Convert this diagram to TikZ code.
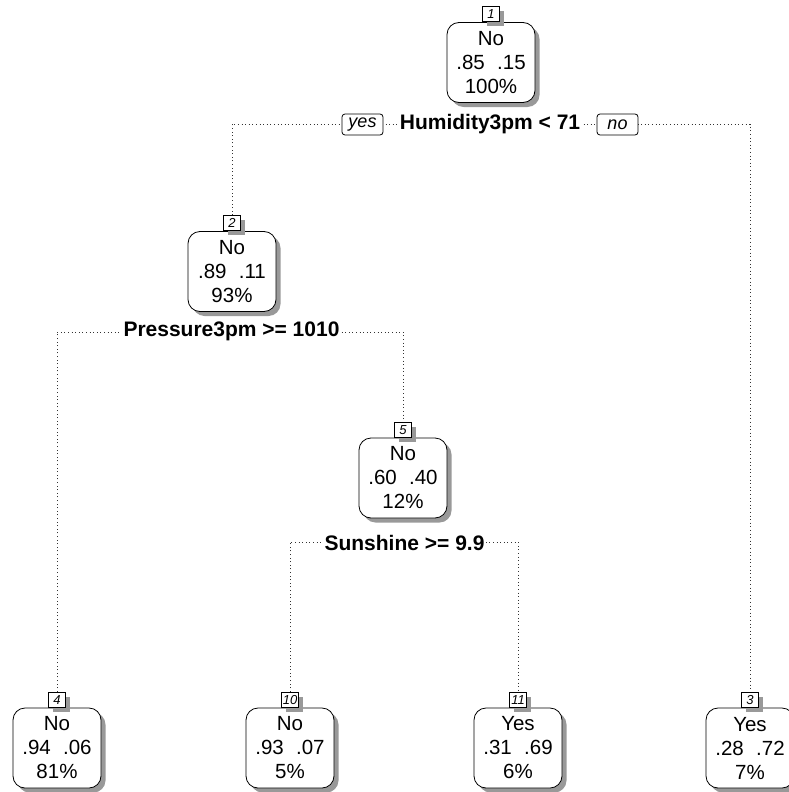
\documentclass[tikz,border=0pt]{standalone}
\usepackage{fontspec}
\setmainfont{Liberation Sans}
\usetikzlibrary{shadows}
\tikzset{
  shd/.style={drop shadow={shadow xshift=4.5pt,shadow yshift=-4.5pt,fill=black!40,opacity=1}},
  tnode/.style={draw,line width=0.8pt,rounded corners=12pt,minimum width=88pt,minimum height=80pt,
    fill=white,align=center,inner sep=0pt,font=\fontsize{20.5}{24}\selectfont,shd},
  numbox/.style={draw,line width=0.8pt,fill=white,minimum width=17pt,minimum height=15pt,inner sep=0pt,
    anchor=south,font=\fontsize{13}{13}\selectfont\itshape,shd},
  splitlab/.style={fill=white,inner sep=1.5pt,font=\fontsize{21}{21}\selectfont\bfseries},
  yn/.style={draw,line width=0.8pt,rounded corners=3pt,fill=white,minimum width=41pt,minimum height=21pt,
    inner sep=0pt,font=\fontsize{18}{18}\selectfont\itshape},
  conn/.style={line width=0.9pt,dash pattern=on 1pt off 2.6pt,black!80}
}
\begin{document}
\begin{tikzpicture}[x=1pt,y=-1pt]
\useasboundingbox (0,0) rectangle (789,792);
% nodes
\node[tnode] (n1) at (491,62.5) {No\\.85\hspace{0.6em}.15\\100\%};
\node[numbox] (k1) at (n1.north) {1};
\node[tnode] (n2) at (232,271.5) {No\\.89\hspace{0.6em}.11\\93\%};
\node[numbox] (k2) at (n2.north) {2};
\node[tnode] (n5) at (403,478) {No\\.60\hspace{0.6em}.40\\12\%};
\node[numbox] (k5) at (n5.north) {5};
\node[tnode] (n4) at (57,748) {No\\.94\hspace{0.6em}.06\\81\%};
\node[numbox] (k4) at (n4.north) {4};
\node[tnode] (n10) at (290,748) {No\\.93\hspace{0.6em}.07\\5\%};
\node[numbox] (k10) at (n10.north) {10};
\node[tnode] (n11) at (518,748) {Yes\\.31\hspace{0.6em}.69\\6\%};
\node[numbox] (k11) at (n11.north) {11};
\node[tnode] (n3) at (750,748) {Yes\\.28\hspace{0.6em}.72\\7\%};
\node[numbox] (k3) at (n3.north) {3};
% split points
\coordinate (c1) at (491,124);
\coordinate (c2) at (232,332);
\coordinate (c5) at (403,542);
% connectors
\draw[conn] (k2.north) |- (c1) -| (k3.north);
\draw[conn] (k4.north) |- (c2) -| (k5.north);
\draw[conn] (k10.north) |- (c5) -| (k11.north);
% labels
\node[splitlab] (s1) at (490,124) {Humidity3pm < 71};
\node[yn] (yes) at (362.5,124.5) {yes};
\node[yn] (no) at (617.5,124.5) {no};
\node[splitlab] (s2) at (231.5,331) {Pressure3pm >= 1010};
\node[splitlab] (s5) at (404.5,543) {Sunshine >= 9.9};
\end{tikzpicture}
\end{document}
